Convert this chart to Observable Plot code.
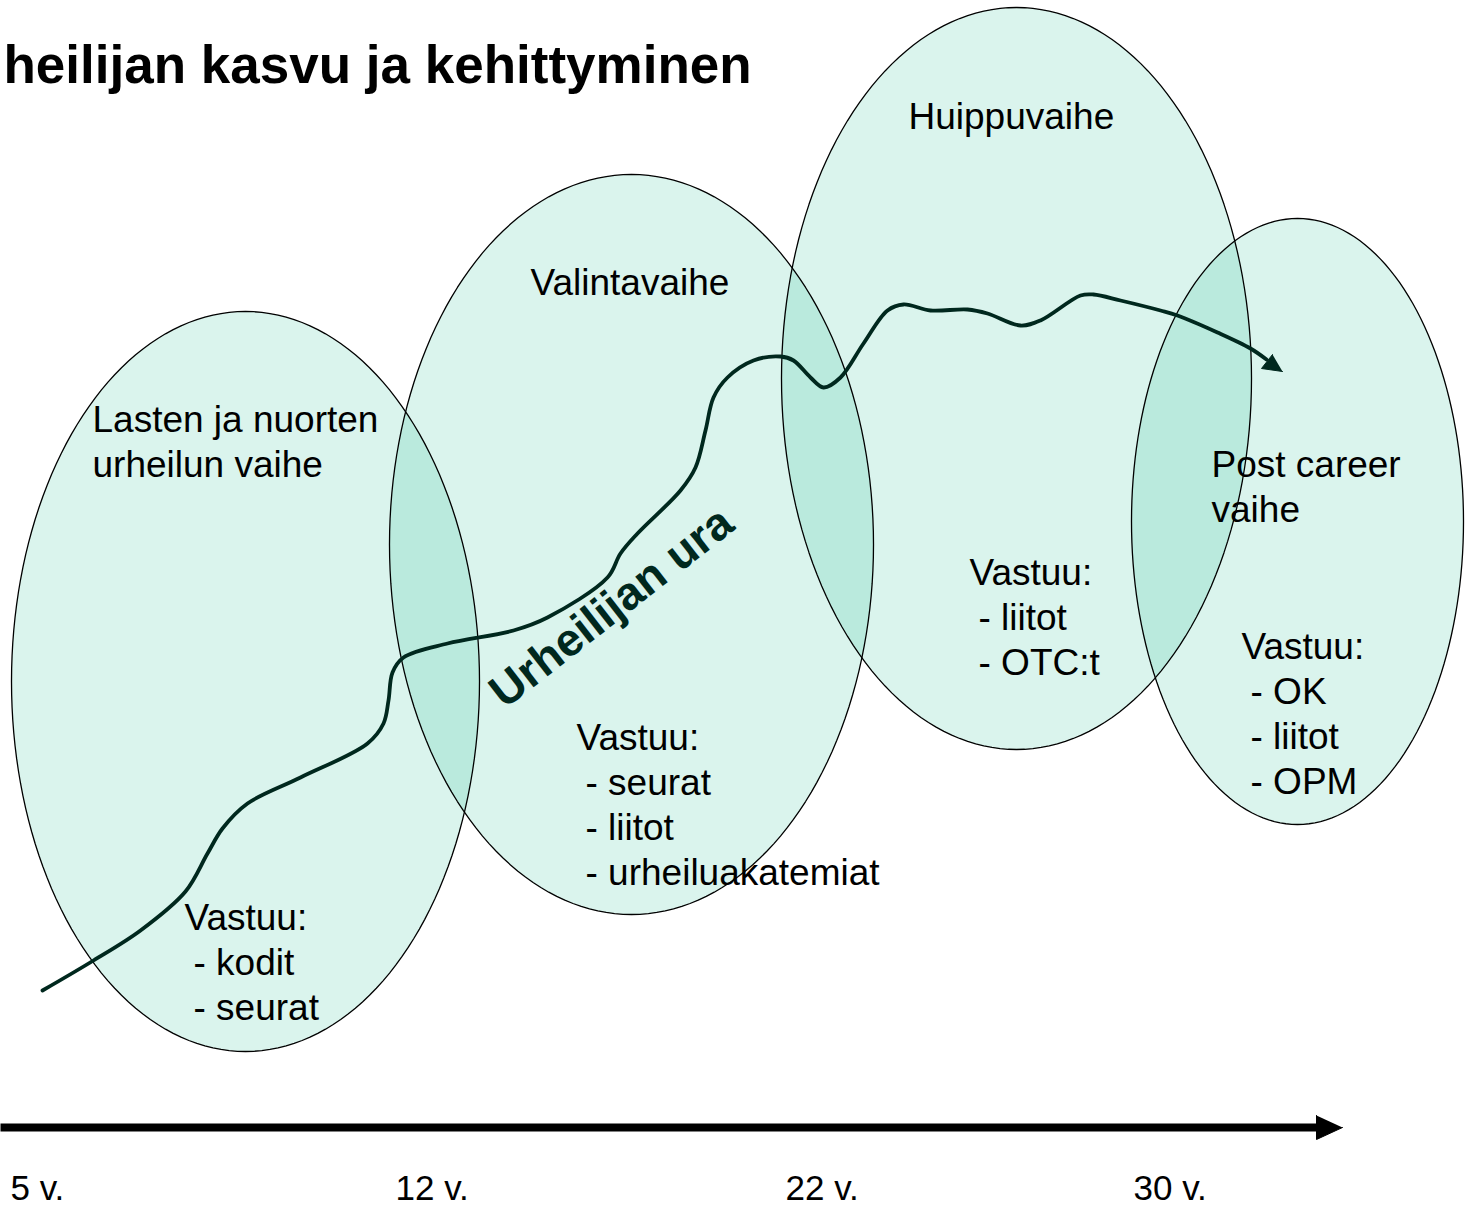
<!DOCTYPE html>
<html><head><meta charset="utf-8">
<script src="https://cdn.jsdelivr.net/npm/d3@7"></script>
<script src="https://cdn.jsdelivr.net/npm/@observablehq/plot@0.6"></script>
<style>html,body{margin:0;padding:0;background:#fff;} #chart svg{display:block;}</style>
</head><body><div id="chart"></div>
<script>
// ---- data ----
const titleText = "heilijan kasvu ja kehittyminen";
const titlePos = [3, 66];

const phaseIds = ["lapset", "valinta", "huippu", "post"];
const phaseCx = [245, 631, 1016, 1297];
const phaseCy = [681, 544, 378, 521];
const phaseRx = [234, 242, 235, 166];
const phaseRy = [370, 370, 371, 303];

const phaseLabelLines = [["Lasten ja nuorten", "urheilun vaihe"], ["Valintavaihe"], ["Huippuvaihe"], ["Post career", "vaihe"]];
const phaseLabelX = [92, 530, 908, 1211];
const phaseLabelY = [420, 283, 117, 465];

const vastuuHeader = "Vastuu:";
const vastuuItems = [["kodit", "seurat"], ["seurat", "liitot", "urheiluakatemiat"], ["liitot", "OTC:t"], ["OK", "liitot", "OPM"]];
const vastuuX = [184, 576, 969, 1241];
const vastuuY = [918, 738, 573, 647];

const careerLabel = "Urheilijan ura";
const careerLabelPos = [611, 607];
const careerLabelAngle = -38;
const careerX = [42, 93, 140, 185, 207, 222, 247, 300, 367, 383, 388, 392, 403, 447, 513, 547, 607, 620, 637, 680, 695, 705, 713, 727, 753, 780, 793, 810, 823, 840, 863, 887, 903, 930, 967, 987, 1020, 1040, 1080, 1093, 1120, 1160, 1177, 1217, 1250, 1266];
const careerY = [990, 960, 930, 891, 853, 828, 803, 777, 743, 723, 700, 672, 657, 643, 630, 617, 577, 553, 533, 490, 467, 430, 397, 377, 360, 356, 360, 377, 387, 377, 343, 310, 304, 310, 309, 313, 325, 320, 295, 294, 300, 310, 315, 332, 348, 359];
const careerHeadX = [1272, 1261, 1282];
const careerHeadY = [354, 368, 371];

const ageLabels = ["5 v.", "12 v.", "22 v.", "30 v."];
const ageX = [10, 395, 785, 1133];
const ageY = 1188;

const timeAxisX = [0, 1320];
const timeAxisY = 1127;
const timeHeadX = [1316, 1316, 1342];
const timeHeadY = [1115, 1139, 1127];

// ---- build tables ----
const W = 1470, H = 1209;
const font = "Liberation Sans, Arial, Helvetica, sans-serif";
const fillColor = "#00b386";
const curveColor = "#00281e";

const ellipsePts = [];
phaseIds.forEach((id, i) => {
  const n = 180;
  for (let k = 0; k <= n; k++) {
    const t = (2 * Math.PI * k) / n;
    ellipsePts.push({id, x: phaseCx[i] + phaseRx[i] * Math.cos(t), y: phaseCy[i] + phaseRy[i] * Math.sin(t)});
  }
});

const lineH = 45;
const labels = [];
phaseLabelLines.forEach((lines, i) => lines.forEach((t, j) => labels.push({text: t, x: phaseLabelX[i], y: phaseLabelY[i] + j * lineH})));
vastuuItems.forEach((items, i) => {
  labels.push({text: vastuuHeader, x: vastuuX[i], y: vastuuY[i]});
  items.forEach((t, j) => labels.push({text: "- " + t, x: vastuuX[i] + 9, y: vastuuY[i] + (j + 1) * lineH}));
});

const career = careerX.map((x, i) => ({x, y: careerY[i]}));
const careerHead = careerHeadX.map((x, i) => ({x, y: careerHeadY[i]}));
const timeAxis = timeAxisX.map(x => ({x, y: timeAxisY}));
const timeHead = timeHeadX.map((x, i) => ({x, y: timeHeadY[i]}));
const ages = ageLabels.map((t, i) => ({text: t, x: ageX[i], y: ageY}));

const chart = Plot.plot({
  width: W, height: H,
  margin: 0,
  x: {domain: [0, W], range: [0, W], axis: null},
  y: {domain: [0, H], range: [0, H], axis: null},
  style: {background: "#ffffff", fontFamily: font},
  marks: [
    Plot.line(ellipsePts, {x: "x", y: "y", z: "id", fill: fillColor, fillOpacity: 0.145, stroke: "none"}),
    Plot.line(ellipsePts, {x: "x", y: "y", z: "id", stroke: "#000", strokeWidth: 1.3}),
    Plot.line(career, {x: "x", y: "y", curve: "catmull-rom", stroke: curveColor, strokeWidth: 3.8}),
    Plot.line(careerHead, {x: "x", y: "y", fill: curveColor, stroke: curveColor, strokeWidth: 1}),
    Plot.line(timeAxis, {x: "x", y: "y", stroke: "#000", strokeWidth: 8, strokeLinecap: "butt"}),
    Plot.line(timeHead, {x: "x", y: "y", fill: "#000", stroke: "#000", strokeWidth: 1}),
    Plot.text(labels, {x: "x", y: "y", text: "text", textAnchor: "start", lineAnchor: "middle", fontSize: 37, fill: "#000", fontFamily: font}),
    Plot.text(ages, {x: "x", y: "y", text: "text", textAnchor: "start", lineAnchor: "middle", fontSize: 35, fill: "#000", fontFamily: font}),
    Plot.text([careerLabel], {x: () => careerLabelPos[0], y: () => careerLabelPos[1], text: d => d, rotate: careerLabelAngle, textAnchor: "middle", lineAnchor: "middle", fontSize: 46, fontWeight: "bold", fill: curveColor, fontFamily: font}),
    Plot.text([titleText], {x: () => titlePos[0], y: () => titlePos[1], text: d => d, textAnchor: "start", lineAnchor: "middle", fontSize: 53, fontWeight: "bold", fill: "#000", fontFamily: font})
  ]
});
document.getElementById("chart").appendChild(chart);
</script>
</body></html>
